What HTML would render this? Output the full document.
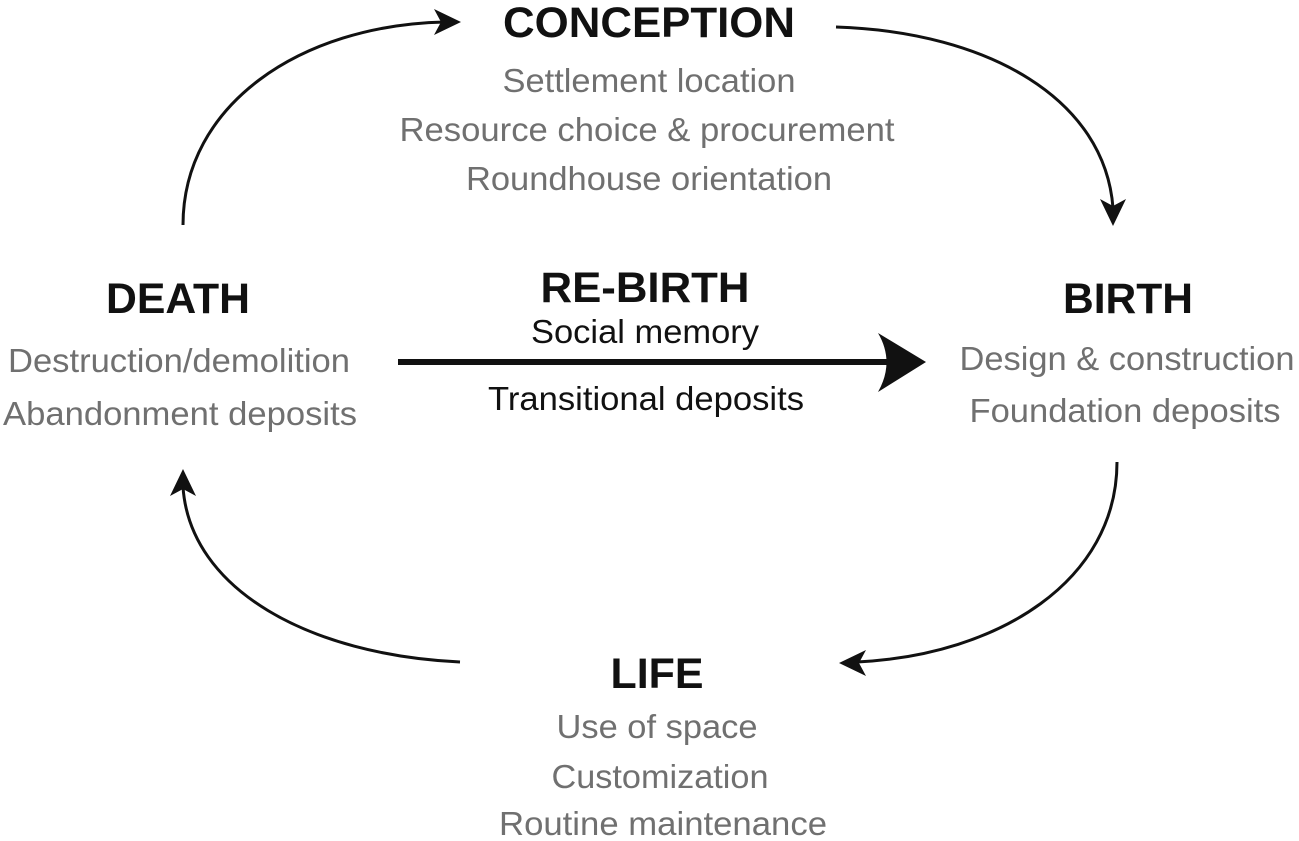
<!DOCTYPE html>
<html><head><meta charset="utf-8"><style>
html,body{margin:0;padding:0;background:#fff;}
svg{display:block;}
text{font-family:"Liberation Sans",Arial,sans-serif;text-anchor:middle;}
.h{font-weight:bold;font-size:43px;fill:#111;}
.g{font-size:33px;fill:#707070;}
.k{font-size:33px;fill:#111;}
</style></head><body>
<svg width="1299" height="841" viewBox="0 0 1299 841" xmlns="http://www.w3.org/2000/svg">
<g fill="none" stroke="#111" stroke-width="3">
<path d="M183,225 C183,105 300,25 445,22"/>
<path d="M836,27 C990,32 1105,100 1113,208"/>
<path d="M1117,462 C1117,580 1000,655 857,662"/>
<path d="M460,662 C310,655 190,590 183,487"/>
<path d="M398,362 L895,362" stroke-width="6"/>
</g>
<g fill="#111">
<path d="M461,22 L434,9 L441,22 L434,35 Z"/>
<path d="M1113,226 L1100,199 L1113,206 L1126,199 Z"/>
<path d="M839,663 L866,650 L859,663 L866,676 Z"/>
<path d="M183,469 L170,496 L183,489 L196,496 Z"/>
<path d="M926,362 L878,333 Q895,362 878,392 Z"/>
</g>
<text class="h" x="649" y="37" textLength="292" lengthAdjust="spacingAndGlyphs">CONCEPTION</text>
<text class="g" x="649" y="92" textLength="293" lengthAdjust="spacingAndGlyphs">Settlement location</text>
<text class="g" x="647" y="141" textLength="495" lengthAdjust="spacingAndGlyphs">Resource choice &amp; procurement</text>
<text class="g" x="649" y="190" textLength="366" lengthAdjust="spacingAndGlyphs">Roundhouse orientation</text>
<text class="h" x="178" y="313" textLength="144" lengthAdjust="spacingAndGlyphs">DEATH</text>
<text class="g" x="179" y="372" textLength="342" lengthAdjust="spacingAndGlyphs">Destruction/demolition</text>
<text class="g" x="180" y="425" textLength="354" lengthAdjust="spacingAndGlyphs">Abandonment deposits</text>
<text class="h" x="645" y="302" textLength="209" lengthAdjust="spacingAndGlyphs">RE-BIRTH</text>
<text class="k" x="645" y="343" textLength="228" lengthAdjust="spacingAndGlyphs">Social memory</text>
<text class="k" x="646" y="410" textLength="316" lengthAdjust="spacingAndGlyphs">Transitional deposits</text>
<text class="h" x="1128" y="313" textLength="130" lengthAdjust="spacingAndGlyphs">BIRTH</text>
<text class="g" x="1127" y="370" textLength="335" lengthAdjust="spacingAndGlyphs">Design &amp; construction</text>
<text class="g" x="1125" y="422" textLength="311" lengthAdjust="spacingAndGlyphs">Foundation deposits</text>
<text class="h" x="657" y="688" textLength="93" lengthAdjust="spacingAndGlyphs">LIFE</text>
<text class="g" x="657" y="738" textLength="201" lengthAdjust="spacingAndGlyphs">Use of space</text>
<text class="g" x="660" y="788" textLength="217" lengthAdjust="spacingAndGlyphs">Customization</text>
<text class="g" x="663" y="835" textLength="328" lengthAdjust="spacingAndGlyphs">Routine maintenance</text>
</svg>
</body></html>
